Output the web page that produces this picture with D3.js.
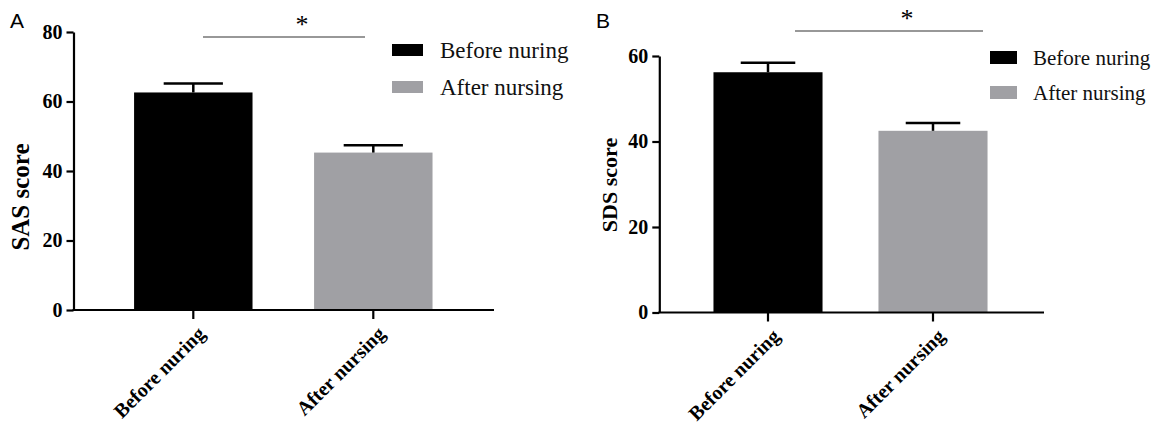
<!DOCTYPE html>
<html>
<head>
<meta charset="utf-8">
<script src="https://cdn.jsdelivr.net/npm/d3@7"></script>
<style>
  html, body { margin: 0; padding: 0; background: #fff; }
  svg { display: block; }
</style>
</head>
<body>
<svg id="chart" width="1158" height="428"></svg>
<script>
// ---- data ----
const categories = ["Before nuring", "After nursing"];
const legendLabels = ["Before nuring", "After nursing"];
const sasMeans = [62.6, 45.3];
const sasErrors = [2.6, 2.1];
const sdsMeans = [56.2, 42.5];
const sdsErrors = [2.2, 1.8];
const sasTicks = [0, 20, 40, 60, 80];
const sdsTicks = [0, 20, 40, 60];
const barColors = ["#000000", "#a0a0a4"];

const SERIF = "'Liberation Serif','Times New Roman',serif";
const SANS = "'Liberation Sans',Arial,sans-serif";

const svg = d3.select("#chart");

function drawPanel(cfg) {
  const g = svg.append("g");
  const y = d3.scaleLinear().domain([0, cfg.yMax]).range([cfg.y0, cfg.yTop]);
  const x = d3.scaleBand().domain(categories).range(cfg.xRange)
    .paddingInner(cfg.pad).paddingOuter(cfg.pad / 2);

  // panel letter
  g.append("text").attr("x", cfg.letterX).attr("y", 28)
    .attr("font-family", SANS).attr("font-size", 21).text(cfg.letter);

  // bars
  g.selectAll("rect.bar").data(cfg.means).join("rect")
    .attr("class", "bar")
    .attr("x", (d, i) => x(categories[i]))
    .attr("width", x.bandwidth())
    .attr("y", d => y(d))
    .attr("height", d => y(0) - y(d))
    .attr("fill", (d, i) => barColors[i]);

  // error bars (upper only)
  const capW = x.bandwidth() * cfg.capFrac;
  cfg.means.forEach((m, i) => {
    const cx = x(categories[i]) + x.bandwidth() / 2;
    g.append("line").attr("x1", cx).attr("x2", cx)
      .attr("y1", y(m)).attr("y2", y(m + cfg.errors[i]))
      .attr("stroke", "#000").attr("stroke-width", 2.5);
    g.append("line").attr("x1", cx - capW / 2).attr("x2", cx + capW / 2)
      .attr("y1", y(m + cfg.errors[i])).attr("y2", y(m + cfg.errors[i]))
      .attr("stroke", "#000").attr("stroke-width", 2.5);
  });

  // y axis
  const yAxis = g.append("g").attr("transform", `translate(${cfg.axisX},0)`)
    .call(d3.axisLeft(y).tickValues(cfg.ticks).tickSize(7).tickSizeOuter(0).tickPadding(4));
  yAxis.select(".domain").attr("stroke-width", 2.2);
  yAxis.selectAll(".tick line").attr("stroke-width", 2.2);
  yAxis.selectAll(".tick text").attr("font-family", SERIF).attr("font-weight", "bold")
    .attr("font-size", 20).attr("fill", "#000");

  // x axis
  const xAxis = g.append("g").attr("transform", `translate(0,${cfg.y0})`)
    .call(d3.axisBottom(x).tickSize(9).tickSizeOuter(0));
  xAxis.select(".domain").remove();
  xAxis.selectAll(".tick line").attr("stroke-width", 2.2);
  xAxis.selectAll(".tick text")
    .attr("font-family", SERIF).attr("font-weight", "bold").attr("font-size", 20)
    .attr("fill", "#000").attr("text-anchor", "end")
    .attr("x", 0).attr("y", 0).attr("dy", 0)
    .attr("transform", `translate(${cfg.lblDx},${cfg.lblDy}) rotate(-45)`);
  g.append("line").attr("x1", cfg.axisX - 1).attr("x2", cfg.xEnd)
    .attr("y1", cfg.y0).attr("y2", cfg.y0)
    .attr("stroke", "#000").attr("stroke-width", 2.2);

  // y title
  g.append("text")
    .attr("transform", `translate(${cfg.titleX},${cfg.titleY}) rotate(-90)`)
    .attr("text-anchor", "middle")
    .attr("font-family", SERIF).attr("font-weight", "bold").attr("font-size", cfg.titleSize)
    .text(cfg.title);

  // significance line + asterisk
  g.append("line").attr("x1", cfg.sig[0]).attr("x2", cfg.sig[1])
    .attr("y1", cfg.sigY).attr("y2", cfg.sigY)
    .attr("stroke", "#333").attr("stroke-width", 1.2);
  g.append("text").attr("x", cfg.starX).attr("y", cfg.sigY - 4)
    .attr("text-anchor", "middle").attr("font-family", SERIF)
    .attr("font-size", 26).text("*");

  // legend
  legendLabels.forEach((lab, i) => {
    g.append("rect").attr("x", cfg.legX).attr("y", cfg.legY + i * cfg.legGap)
      .attr("width", cfg.swW).attr("height", cfg.swH).attr("fill", barColors[i]);
    g.append("text").attr("x", cfg.legTextX)
      .attr("y", cfg.legY + i * cfg.legGap + cfg.swH / 2)
      .attr("dy", "0.35em")
      .attr("font-family", SERIF).attr("font-size", cfg.legSize).attr("fill", "#111")
      .text(lab);
  });
}

drawPanel({
  letter: "A", letterX: 10,
  means: sasMeans, errors: sasErrors, ticks: sasTicks, yMax: 80,
  y0: 310, yTop: 32, axisX: 73.5, xEnd: 494,
  xRange: [103.3, 463.3], pad: 0.342, capFrac: 0.5,
  lblDx: 13, lblDy: 25,
  title: "SAS score", titleX: 29, titleY: 197, titleSize: 25,
  sig: [203, 365], sigY: 37, starX: 302,
  legX: 392, legY: 44, legGap: 37, swW: 31, swH: 12, legTextX: 440, legSize: 23
});

drawPanel({
  letter: "B", letterX: 596,
  means: sdsMeans, errors: sdsErrors, ticks: sdsTicks, yMax: 60,
  y0: 312.5, yTop: 56, axisX: 659.3, xEnd: 1044,
  xRange: [685.5, 1015.5], pad: 0.339, capFrac: 0.5,
  lblDx: 13, lblDy: 25,
  title: "SDS score", titleX: 617, titleY: 185, titleSize: 22,
  sig: [795, 983], sigY: 31, starX: 907,
  legX: 990, legY: 51, legGap: 35, swW: 27, swH: 13, legTextX: 1033, legSize: 21
});
</script>
</body>
</html>
